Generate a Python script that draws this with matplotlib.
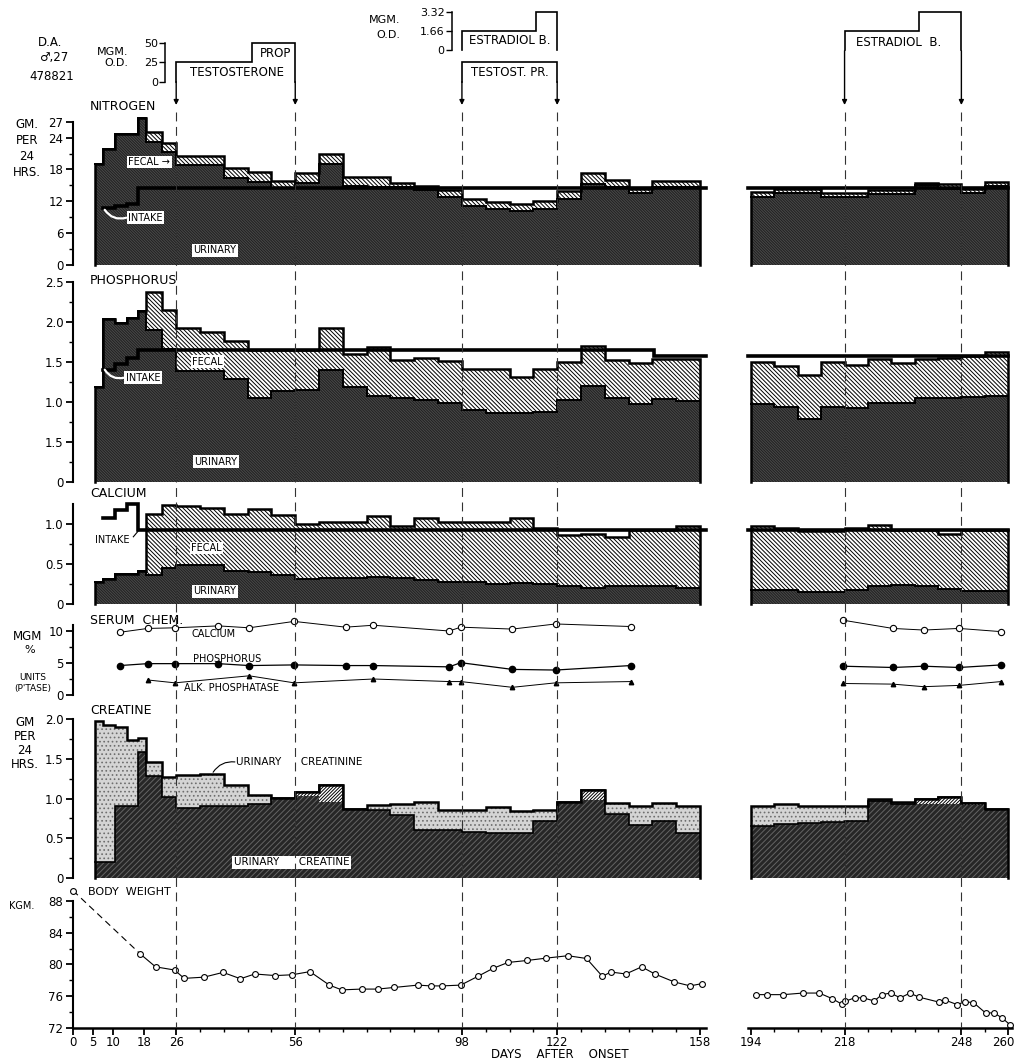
import numpy as np
import matplotlib
matplotlib.use("Agg")
import matplotlib.pyplot as plt
from matplotlib.transforms import ScaledTranslation

plt.rcParams["font.family"] = ["DejaVu Sans"]
plt.rcParams["font.size"] = 8

# ---------------- data ----------------
# balance periods, days after onset
edges_left = [5.5, 7.5, 10.5, 13.5, 16.5, 18.5, 22.5, 26, 32, 38, 44, 50, 56, 62, 68,
              74, 80, 86, 92, 98, 104, 110, 116, 122, 128, 134, 140, 146, 152, 158]
edges_right = [194, 200, 206, 212, 218, 224, 230, 236, 242, 248, 254, 260]

# nitrogen, gm per 24 hrs
n_uri_l = [18.95, 21.95, 24.7, 24.6, 27.7, 23.2, 21.2, 18.75, 18.75, 16.4, 15.6, 14.5, 15.5,
           18.95, 14.95, 14.7, 14.7, 14.2, 12.8, 11.2, 10.55, 10.1, 10.55, 12.45, 15.3, 14.7,
           13.6, 14.7, 14.7]
n_fec_l = [0, 0, 0, 0, 0, 1.9, 1.85, 1.75, 1.75, 1.9, 1.95, 1.3, 1.75, 1.9, 1.65, 1.9, 0.8,
           0.75, 1.4, 1.25, 1.25, 1.45, 1.45, 1.45, 1.95, 1.3, 0.75, 1.1, 1.1]
n_uri_r = [12.9, 13.5, 13.5, 12.75, 12.75, 13.4, 13.4, 15.0, 14.3, 13.65, 14.9]
n_fec_r = [0.9, 0.8, 0.8, 0.9, 0.9, 0.75, 0.75, 0.4, 1.0, 0.65, 0.7]
n_in_edges_l = [7.5, 10.5, 13.5, 16.5, 159.5]
n_in_l = [10.7, 11.05, 11.55, 14.5]
n_in_edges_r = [193.2, 260]
n_in_r = [14.5]

# phosphorus
p_uri_l = [1.19, 2.04, 1.99, 2.05, 2.14, 1.90, 1.66, 1.38, 1.38, 1.28, 1.05, 1.14, 1.15, 1.40,
           1.18, 1.075, 1.05, 1.02, 0.99, 0.90, 0.86, 0.86, 0.875, 1.02, 1.20, 1.05, 0.97,
           1.03, 1.01]
p_fec_l = [0, 0, 0, 0, 0, 0.47, 0.49, 0.54, 0.495, 0.48, 0.60, 0.51, 0.50, 0.525, 0.42, 0.615,
           0.47, 0.53, 0.52, 0.51, 0.55, 0.45, 0.535, 0.48, 0.50, 0.47, 0.52, 0.50, 0.52]
p_uri_r = [0.97, 0.93, 0.78, 0.93, 0.92, 0.98, 0.98, 1.05, 1.05, 1.06, 1.07]
p_fec_r = [0.53, 0.52, 0.55, 0.57, 0.54, 0.55, 0.50, 0.49, 0.50, 0.51, 0.55]
p_in_edges_l = [7.5, 10.5, 13.5, 16.5, 146.5, 159.5]
p_in_l = [1.40, 1.47, 1.55, 1.65, 1.57]
p_in_edges_r = [193.2, 260]
p_in_r = [1.57]

# calcium
ca_uri_l = [0.28, 0.31, 0.38, 0.38, 0.41, 0.36, 0.45, 0.49, 0.49, 0.41, 0.40, 0.36, 0.31, 0.32,
            0.33, 0.34, 0.32, 0.30, 0.27, 0.27, 0.25, 0.26, 0.25, 0.22, 0.20, 0.22, 0.22, 0.22,
            0.20]
ca_fec_l = [0, 0, 0, 0, 0, 0.77, 0.79, 0.73, 0.71, 0.71, 0.79, 0.75, 0.69, 0.70, 0.69, 0.76,
            0.66, 0.77, 0.75, 0.75, 0.77, 0.81, 0.705, 0.64, 0.67, 0.62, 0.705, 0.705, 0.78]
ca_uri_r = [0.175, 0.175, 0.15, 0.15, 0.175, 0.22, 0.24, 0.22, 0.19, 0.16, 0.16]
ca_fec_r = [0.795, 0.78, 0.76, 0.76, 0.77, 0.77, 0.685, 0.705, 0.68, 0.765, 0.765]
ca_in_edges_l = [7.5, 10.5, 13.5, 16.5, 159.5]
ca_in_l = [1.08, 1.175, 1.245, 0.925]
ca_in_edges_r = [193.2, 260]
ca_in_r = [0.925]

# serum chemistry
ser_days_l = [11.8, 18.8, 25.7, 36.6, 44.4, 55.7, 68.7, 75.7, 94.8, 97.7, 110.7, 121.6, 140.5]
ser_ca_l = [9.8, 10.4, 10.5, 10.8, 10.5, 11.5, 10.6, 10.9, 10.0, 10.6, 10.3, 11.1, 10.7]
ser_p_l = [4.6, 4.9, 4.9, 4.9, 4.6, 4.7, 4.6, 4.6, 4.4, 5.05, 4.0, 3.9, 4.6]
alk_days_l = [18.8, 25.7, 44.4, 55.7, 75.7, 94.8, 97.7, 110.7, 121.6, 140.5]
alk_l = [2.35, 1.9, 3.0, 1.9, 2.5, 2.1, 2.1, 1.2, 1.9, 2.1]
ser_days_r = [217.5, 230.4, 238.3, 247.4, 258.2]
ser_ca_r = [11.7, 10.4, 10.15, 10.4, 9.9]
ser_p_r = [4.5, 4.3, 4.5, 4.3, 4.7]
alk_r = [1.8, 1.7, 1.3, 1.5, 2.1]

# urinary creatine / creatinine, gm per 24 hrs
crt_l = [0.2, 0.2, 0.91, 0.91, 1.58, 1.28, 1.02, 0.88, 0.91, 0.90, 0.93, 1.01, 1.08, 1.17,
         0.87, 0.85, 0.79, 0.60, 0.60, 0.58, 0.56, 0.56, 0.72, 0.96, 1.11, 0.81, 0.67, 0.72,
         0.56]
crn_l = [1.97, 1.93, 1.90, 1.74, 1.76, 1.46, 1.27, 1.30, 1.31, 1.17, 1.04, 1.01, 1.03, 0.95,
         0.87, 0.92, 0.925, 0.95, 0.85, 0.86, 0.89, 0.84, 0.86, 0.96, 0.975, 0.945, 0.91,
         0.945, 0.91]
crt_r = [0.65, 0.68, 0.69, 0.70, 0.72, 0.97, 0.93, 1.0, 1.025, 0.94, 0.87]
crn_r = [0.90, 0.93, 0.91, 0.90, 0.90, 1.0, 0.955, 0.925, 0.93, 0.92, 0.87]

# body weight, kgm
bw_days_l = [0, 17, 20.8, 25.6, 28, 33, 37.8, 42.2, 45.8, 51, 55.2, 59.7, 64.6, 67.7, 72.7,
             76.8, 80.8, 86.9, 90.1, 93, 97.7, 102, 105.8, 109.6, 114.4, 119.3, 124.7, 129.4,
             133.4, 135.5, 139.3, 143.3, 146.6, 151.5, 155.5, 158.6]
bw_l = [89.3, 81.3, 79.7, 79.3, 78.25, 78.4, 79.0, 78.2, 78.8, 78.6, 78.7, 79.1, 77.4, 76.8,
        76.9, 76.9, 77.1, 77.4, 77.3, 77.3, 77.4, 78.5, 79.5, 80.25, 80.5, 80.8, 81.1, 80.75,
        78.5, 79.05, 78.8, 79.7, 78.8, 77.8, 77.3, 77.6]
bw_days_r = [195.2, 198.2, 202.3, 207.3, 211.5, 214.8, 217.3, 218.1, 220.6, 222.8, 225.6,
             227.6, 229.8, 232.3, 234.8, 237, 242.3, 243.9, 246.9, 248.9, 251.1, 254.2, 256.4,
             258.5, 260.5]
bw_r = [76.2, 76.2, 76.2, 76.4, 76.4, 75.7, 75.0, 75.35, 75.8, 75.8, 75.4, 76.2, 76.4, 75.8,
        76.4, 75.9, 75.25, 75.5, 74.95, 75.3, 75.2, 73.9, 73.9, 73.25, 72.4]

# treatment (mgm. o.d.)
testo_edges = [26, 45, 56]
testo_dose = [25, 50]
testpr_edges = [98, 122]
testpr_dose = [25]
estr_edges_l = [98, 116.6, 122]
estr_dose_l = [1.66, 3.32]
estr_edges_r = [218, 237.2, 248]
estr_dose_r = [1.66, 3.32]
treat_days_l = [26, 56, 98, 122]
treat_days_r = [218, 248]

# ---------------- layout ----------------
W, H = 1015, 1062
fig = plt.figure(figsize=(W / 100, H / 100), dpi=100)
LX, RX = (73, 706), (748, 1012)
LD, RD = (0, 159.5), (193.2, 261)

DARK = dict(face="#4a4a4a", hatch="\\" * 12, hcolor="#202020")
FECAL = dict(face="white", hatch="\\" * 8, hcolor="black")
CDARK = dict(face="#262626", hatch="/" * 6, hcolor="#646464")
STIP = dict(face="#d4d4d4", hatch="....", hcolor="#6e6e6e")
EXCESS = dict(face="white", hatch="/" * 10, hcolor="black")


def add_ax(xs, ytop, ybot, xlim, ylim, z=1):
    ax = fig.add_axes([xs[0] / W, 1 - ybot / H, (xs[1] - xs[0]) / W, (ybot - ytop) / H])
    ax.set_xlim(*xlim)
    ax.set_ylim(*ylim)
    ax.patch.set_alpha(0)
    ax.set_zorder(z)
    for s in ax.spines.values():
        s.set_visible(False)
    ax.set_xticks([])
    ax.set_yticks([])
    return ax


def yaxis(ax, ticks, labels, minor, top):
    sp = ax.spines["left"]
    sp.set_visible(True)
    sp.set_linewidth(1.5)
    sp.set_bounds(ax.get_ylim()[0], top)
    ax.set_yticks(ticks, labels)
    ax.set_yticks(minor, minor=True)
    ax.tick_params(axis="y", which="major", length=5, width=1.3, labelsize=8.5, pad=2)
    ax.tick_params(axis="y", which="minor", length=3, width=1.0)


def fill(ax, edges, lo, hi, face, hatch, hcolor):
    lo = np.append(lo, lo[-1])
    hi = np.append(hi, hi[-1])
    with plt.rc_context({"hatch.color": hcolor, "hatch.linewidth": 0.7}):
        ax.fill_between(edges, lo, hi, step="post", facecolor=face, edgecolor=hcolor,
                        hatch=hatch, linewidth=0, zorder=1)


def steps(ax, edges, vals, closed=False, **kw):
    xs = np.repeat(edges, 2)[1:-1]
    ys = np.repeat(vals, 2)
    if closed:
        xs = np.r_[edges[0], xs, edges[-1]]
        ys = np.r_[0, ys, 0]
    ax.plot(xs, ys, color="black", solid_joinstyle="miter", clip_on=False, zorder=3, **kw)


def balance(ax, edges, uri, fec, in_edges, intake):
    uri = np.asarray(uri, float)
    tot = uri + np.asarray(fec, float)
    fill(ax, edges, np.zeros_like(uri), uri, **DARK)
    fill(ax, edges, uri, tot, **FECAL)
    steps(ax, edges, tot, closed=True, lw=1.8)
    steps(ax, edges, uri, lw=1.4)
    steps(ax, in_edges, intake, lw=2.6)


def creat(ax, edges, crt, crn):
    crt = np.asarray(crt, float)
    crn = np.asarray(crn, float)
    top = np.maximum(crt, crn)
    fill(ax, edges, np.zeros_like(crt), np.minimum(crt, crn), **CDARK)
    fill(ax, edges, crt, top, **STIP)
    fill(ax, edges, crn, top, **EXCESS)
    steps(ax, edges, top, closed=True, lw=1.8)
    steps(ax, edges, crt, lw=1.2)


def ftext(x, y, s, **kw):
    kw.setdefault("va", "center")
    kw.setdefault("fontsize", 8.5)
    fig.text(x / W, 1 - y / H, s, **kw)


white_box = dict(boxstyle="square,pad=0.15", fc="white", ec="none")

# nitrogen
axn_l = add_ax(LX, 116.4, 265, LD, (0, 28))
axn_r = add_ax(RX, 116.4, 265, RD, (0, 28))
balance(axn_l, edges_left, n_uri_l, n_fec_l, n_in_edges_l, n_in_l)
balance(axn_r, edges_right, n_uri_r, n_fec_r, n_in_edges_r, n_in_r)
yaxis(axn_l, [0, 6, 12, 18, 24, 27], ["0", "6", "12", "18", "24", "27"], [3, 9, 15, 21], 27)
axn_l.text(19.2, 19.4, "FECAL \u2192", fontsize=7, ha="center", va="center", bbox=white_box, zorder=5)
axn_l.text(18.2, 8.9, "INTAKE", fontsize=7, ha="center", va="center", bbox=white_box, zorder=5)
axn_l.text(35.8, 2.8, "URINARY", fontsize=7, ha="center", va="center", bbox=white_box, zorder=5)
axn_l.annotate("", xy=(13.4, 8.9), xytext=(8.0, 10.4), zorder=5,
               arrowprops=dict(arrowstyle="-", color="white", lw=1.6, shrinkA=0, shrinkB=0,
                               connectionstyle="arc3,rad=0.35"))

# phosphorus
axp_l = add_ax(LX, 281.7, 481.7, LD, (0, 2.5))
axp_r = add_ax(RX, 281.7, 481.7, RD, (0, 2.5))
balance(axp_l, edges_left, p_uri_l, p_fec_l, p_in_edges_l, p_in_l)
balance(axp_r, edges_right, p_uri_r, p_fec_r, p_in_edges_r, p_in_r)
yaxis(axp_l, [0, 0.5, 1.0, 1.5, 2.0, 2.5], ["0", "1.5", "1.0", "1.5", "2.0", "2.5"],
      [0.25, 0.75, 1.25, 1.75, 2.25], 2.5)
axp_l.text(33.9, 1.5, "FECAL", fontsize=7, ha="center", va="center", bbox=white_box, zorder=5)
axp_l.text(17.6, 1.30, "INTAKE", fontsize=7, ha="center", va="center", bbox=white_box, zorder=5)
axp_l.text(36.0, 0.25, "URINARY", fontsize=7, ha="center", va="center", bbox=white_box, zorder=5)
axp_l.annotate("", xy=(12.9, 1.30), xytext=(8.0, 1.40), zorder=5,
               arrowprops=dict(arrowstyle="-", color="white", lw=1.6, shrinkA=0, shrinkB=0,
                               connectionstyle="arc3,rad=0.35"))

# calcium
axc_l = add_ax(LX, 500, 604, LD, (0, 1.3))
axc_r = add_ax(RX, 500, 604, RD, (0, 1.3))
balance(axc_l, edges_left, ca_uri_l, ca_fec_l, ca_in_edges_l, ca_in_l)
balance(axc_r, edges_right, ca_uri_r, ca_fec_r, ca_in_edges_r, ca_in_r)
yaxis(axc_l, [0, 0.5, 1.0], ["0", "0.5", "1.0"], [0.25, 0.75], 1.245)
axc_l.text(10.0, 0.80, "INTAKE", fontsize=7, ha="center", va="center")
axc_l.plot([15.2, 16.4], [0.84, 0.91], color="black", lw=0.8)
axc_l.text(33.6, 0.70, "FECAL", fontsize=7, ha="center", va="center", bbox=white_box, zorder=5)
axc_l.text(35.8, 0.16, "URINARY", fontsize=7, ha="center", va="center", bbox=white_box, zorder=5)

# serum chemistry
axs_l = add_ax(LX, 618.2, 695, LD, (0, 12))
axs_r = add_ax(RX, 618.2, 695, RD, (0, 12))
for ax, d, ca, p, ad, alk in [(axs_l, ser_days_l, ser_ca_l, ser_p_l, alk_days_l, alk_l),
                              (axs_r, ser_days_r, ser_ca_r, ser_p_r, ser_days_r, alk_r)]:
    ax.plot(d, ca, "-o", color="black", lw=0.7, ms=4.5, mfc="white", mew=0.8, clip_on=False)
    ax.plot(d, p, "-o", color="black", lw=0.9, ms=4.5, clip_on=False)
    ax.plot(ad, alk, "-^", color="black", lw=0.7, ms=3.2, clip_on=False)
yaxis(axs_l, [0, 5, 10], ["0", "5", "10"], [2.5, 7.5], 10.9)
axs_l.text(35.5, 9.6, "CALCIUM", fontsize=7, ha="center", va="center")
axs_l.text(38.8, 5.7, "PHOSPHORUS", fontsize=7, ha="center", va="center")
axs_l.text(39.9, 1.1, "ALK. PHOSPHATASE", fontsize=7, ha="center", va="center")

# creatine
axk_l = add_ax(LX, 719, 878, LD, (0, 2.0))
axk_r = add_ax(RX, 719, 878, RD, (0, 2.0))
creat(axk_l, edges_left, crt_l, crn_l)
creat(axk_r, edges_right, crt_r, crn_r)
yaxis(axk_l, [0, 0.5, 1.0, 1.5, 2.0], ["0", "0.5", "1.0", "1.5", "2.0"],
      [0.25, 0.75, 1.25, 1.75], 2.0)
axk_l.text(41.0, 1.46, "URINARY      CREATININE", fontsize=7.5, ha="left", va="center")
axk_l.annotate("", xy=(35.3, 1.33), xytext=(40.8, 1.46),
               arrowprops=dict(arrowstyle="-", color="black", lw=0.8, shrinkA=0, shrinkB=0,
                               connectionstyle="arc3,rad=0.3"))
axk_l.text(40.5, 0.2, "URINARY      CREATINE", fontsize=7.5, ha="left", va="center",
           bbox=white_box, zorder=5)

# body weight
axw_l = add_ax(LX, 889, 1028, LD, (72, 89.5))
axw_r = add_ax(RX, 889, 1028, RD, (72, 89.5))
yaxis(axw_l, [72, 76, 80, 84, 88], ["72", "76", "80", "84", "88"], [74, 78, 82, 86], 88)
axw_l.plot(bw_days_l[:2], bw_l[:2], color="black", lw=0.8, ls=(0, (6, 4)))
axw_l.plot(bw_days_l[1:], bw_l[1:], color="black", lw=0.8)
axw_l.plot(bw_days_l, bw_l, "o", color="black", ms=4.2, mfc="white", mew=0.8, clip_on=False)
axw_r.plot(bw_days_r, bw_r, "-o", color="black", lw=0.8, ms=4.2, mfc="white", mew=0.8,
           clip_on=False)
for ax, major, minor in [(axw_l, [0, 5, 10, 18, 26, 56, 98, 122, 158], edges_left[7:]),
                         (axw_r, [194, 218, 248, 260], edges_right)]:
    ax.spines["bottom"].set_visible(True)
    ax.spines["bottom"].set_linewidth(1.8)
    ax.set_xticks(major, [str(v) for v in major])
    ax.set_xticks(minor, minor=True)
    ax.tick_params(axis="x", which="major", length=5, width=1.3, labelsize=8.5, pad=1)
    ax.tick_params(axis="x", which="minor", length=3, width=1.0)
last = axw_r.get_xticklabels()[-1]
last.set_horizontalalignment("right")
last.set_transform(last.get_transform() + ScaledTranslation(6 / 100, 0, fig.dpi_scale_trans))

# treatment header
axt = add_ax(LX, 42.7, 81.7, LD, (0, 50), z=2)
axe_l = add_ax(LX, 11.7, 50, LD, (0, 3.32), z=2)
axe_r = add_ax(RX, 11.7, 50, RD, (0, 3.32), z=2)
steps(axt, testo_edges, testo_dose, closed=True, lw=1.2)
steps(axt, testpr_edges, testpr_dose, closed=True, lw=1.2)
steps(axe_l, estr_edges_l, estr_dose_l, closed=True, lw=1.2)
steps(axe_r, estr_edges_r, estr_dose_r, closed=True, lw=1.2)
axt.text(41.4, 11.5, "TESTOSTERONE", fontsize=8.5, ha="center", va="center")
axt.text(51.0, 36.5, "PROP", fontsize=8.5, ha="center", va="center")
axt.text(110.0, 11.5, "TESTOST. PR.", fontsize=8.5, ha="center", va="center")
axe_l.text(110.0, 0.85, "ESTRADIOL B.", fontsize=8.5, ha="center", va="center")
axe_r.text(232.0, 0.65, "ESTRADIOL  B.", fontsize=8.5, ha="center", va="center")
for ax, pos, ticks, labels in [(axt, 23.2, [0, 25, 50], ["0", "25", "50"]),
                               (axe_l, 95.4, [0, 1.66, 3.32], ["0", "1.66", "3.32"])]:
    sp = ax.spines["left"]
    sp.set_visible(True)
    sp.set_position(("data", pos))
    sp.set_linewidth(1.1)
    ax.set_yticks(ticks, labels)
    ax.tick_params(axis="y", length=4, width=1.0, labelsize=8, pad=1)

# treatment arrows and dashed guide lines
ovl_l = add_ax(LX, 0, 1028, LD, (1028, 0), z=10)
ovl_r = add_ax(RX, 0, 1028, RD, (1028, 0), z=10)
for ax, days, y0 in [(ovl_l, treat_days_l, 81.7), (ovl_r, treat_days_r, 50.7)]:
    for d in days:
        ax.annotate("", xy=(d, 105), xytext=(d, y0),
                    arrowprops=dict(arrowstyle="-|>", color="black", lw=1.0,
                                    mutation_scale=7, shrinkA=0, shrinkB=0))
    ax.vlines(days, 112, 1028, colors="#333333", lw=0.8, linestyles=(0, (8, 5)))

# labels outside the axes
ftext(50, 43, "D.A.", ha="center")
ftext(54, 58, "\u2642,27", ha="center")
ftext(52, 77, "478821", ha="center")
ftext(128, 52, "MGM.", ha="right", fontsize=8)
ftext(128, 63, "O.D.", ha="right", fontsize=8)
ftext(400, 20, "MGM.", ha="right", fontsize=8)
ftext(400, 35, "O.D.", ha="right", fontsize=8)

ftext(90, 107, "NITROGEN", ha="left", fontsize=9)
ftext(90, 281, "PHOSPHORUS", ha="left", fontsize=9)
ftext(90, 493, "CALCIUM", ha="left", fontsize=9)
ftext(90, 620, "SERUM  CHEM.", ha="left", fontsize=9)
ftext(90, 710, "CREATINE", ha="left", fontsize=9)
ftext(88, 892, "BODY  WEIGHT", ha="left", fontsize=8)

for txt, y in [("GM.", 125), ("PER", 141), ("24", 157), ("HRS.", 172)]:
    ftext(27, y, txt, ha="center", fontsize=8.5)
for txt, y in [("GM", 723), ("PER", 737), ("24", 751), ("HRS.", 765)]:
    ftext(25, y, txt, ha="center", fontsize=8.5)
ftext(28, 637, "MGM", ha="center", fontsize=8.5)
ftext(30, 650, "%", ha="center", fontsize=8)
ftext(33, 677, "UNITS", ha="center", fontsize=6.5)
ftext(33, 689, "(P'TASE)", ha="center", fontsize=6.5)
ftext(22, 906, "KGM.", ha="center", fontsize=7)
ftext(560, 1054, "DAYS    AFTER    ONSET", ha="center", fontsize=8.5)

fig.savefig("out.png", dpi=100)
